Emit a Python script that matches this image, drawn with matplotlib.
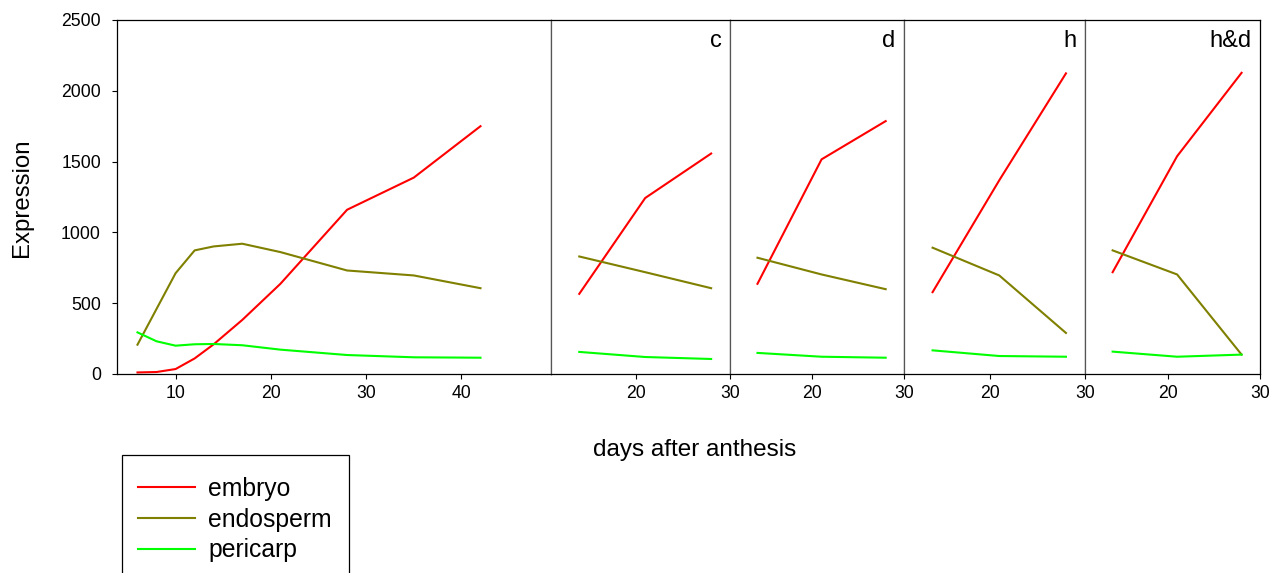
import matplotlib
matplotlib.use("Agg")
import matplotlib.pyplot as plt
from matplotlib.patches import Rectangle

plt.rcParams['font.family'] = ['Liberation Sans', 'DejaVu Sans']

# ---- data ----
days_full = [6, 8, 10, 12, 14, 17, 21, 28, 35, 42]
embryo_full = [11, 14, 35, 110, 210, 382, 637, 1160, 1387, 1750]
endo_days = [6, 10, 12, 14, 17, 21, 28, 35, 42]
endosperm_full = [207, 712, 873, 901, 920, 861, 731, 696, 606]
pericarp_full = [294, 231, 200, 210, 212, 203, 172, 134, 118, 115]

days_trt = [14, 21, 28]
treatments = ["c", "d", "h", "h&d"]
embryo_trt = {"c": [566, 1243, 1557], "d": [637, 1516, 1786],
              "h": [578, 1368, 2123], "h&d": [719, 1538, 2127]}
endosperm_trt = {"c": [830, 719, 606], "d": [821, 703, 599],
                 "h": [892, 696, 290], "h&d": [873, 703, 137]}
pericarp_trt = {"c": [156, 120, 106], "d": [149, 122, 115],
                "h": [167, 127, 122], "h&d": [158, 122, 137]}

series_labels = ["embryo", "endosperm", "pericarp"]
colors = ["#ff0000", "#808000", "#00ff00"]
y_ticks = [0, 500, 1000, 1500, 2000, 2500]

W, H = 1278, 573
fig = plt.figure(figsize=(W / 100, H / 100), dpi=100)

edges = [117, 551, 730, 904, 1085, 1260]
top, bottom = 20, 374
axes = []
for i in range(5):
    l, r = edges[i], edges[i + 1]
    ax = fig.add_axes([l / W, 1 - bottom / H, (r - l) / W, (bottom - top) / H])
    axes.append(ax)

lw = 1.5
tick_fs = 12.7
# first panel
ax = axes[0]
lines = []
lines += ax.plot(days_full, embryo_full, color=colors[0], lw=lw)
lines += ax.plot(endo_days, endosperm_full, color=colors[1], lw=lw)
lines += ax.plot(days_full, pericarp_full, color=colors[2], lw=lw)
ax.set_xlim(3.85, 49.4)
ax.set_xticks([10, 20, 30, 40])
ax.set_ylim(0, 2500)
ax.set_yticks(y_ticks)

for ax, t in zip(axes[1:], treatments):
    ax.plot(days_trt, embryo_trt[t], color=colors[0], lw=lw)
    ax.plot(days_trt, endosperm_trt[t], color=colors[1], lw=lw)
    ax.plot(days_trt, pericarp_trt[t], color=colors[2], lw=lw)
    ax.set_xlim(11, 30)
    ax.set_xticks([20, 30])
    ax.set_ylim(0, 2500)
    ax.set_yticks([])
    ax.annotate(t, xy=(1, 1), xycoords='axes fraction', xytext=(-6, -7),
                textcoords='offset points', ha='right', va='top', fontsize=17)

for i, ax in enumerate(axes):
    ax.tick_params(axis='both', direction='out', length=3.6, width=0.8,
                   labelsize=tick_fs, color='black')
    ax.tick_params(axis='x', pad=4)
    ax.tick_params(axis='y', pad=8)
    for s in ax.spines.values():
        s.set_linewidth(0.9)
        s.set_color('black')
    if i > 0:
        ax.spines['left'].set_color('#555555')
    if i < 4:
        ax.spines['right'].set_color('#555555')

fig.text(695 / W, 1 - 450 / H, "days after anthesis", ha='center', va='center', fontsize=17.5)
fig.text(22 / W, 1 - 198 / H, "Expression", ha='center', va='center', rotation=90, fontsize=17.3)

# legend frame (extends past the bottom edge of the figure)
frame = Rectangle((122 / W, -0.1), (349 - 122) / W, (1 - 455 / H) + 0.1,
                  transform=fig.transFigure, fill=False, edgecolor='black',
                  linewidth=0.9, clip_on=False)
fig.add_artist(frame)

leg = fig.legend(lines, series_labels, loc='upper left',
                 bbox_to_anchor=(122 / W, 1 - 461 / H), bbox_transform=fig.transFigure,
                 borderaxespad=0, fontsize=17.8, frameon=False,
                 handlelength=2.3, handletextpad=0.53, labelspacing=0.27,
                 borderpad=0.65)

fig.savefig("out.png", dpi=100)
